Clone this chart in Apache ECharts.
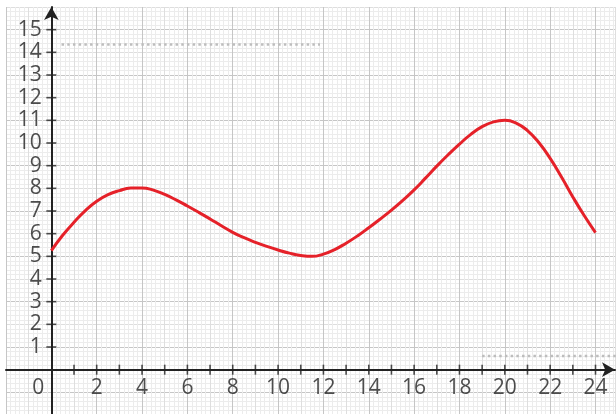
<!DOCTYPE html>
<html>
<head>
<meta charset="utf-8">
<script src="https://cdn.jsdelivr.net/npm/echarts@6/dist/echarts.min.js"></script>
<style>html,body{margin:0;padding:0;background:#fff}#c{width:616px;height:414px}</style>
</head>
<body>
<div id="c"></div>
<script>
// ---- data ----
const curveX = [0, 0.5, 1, 1.5, 2, 2.5, 3, 3.5, 4, 4.5, 5, 5.5, 6, 6.5, 7, 7.5, 8, 8.5, 9, 9.5, 10, 10.5, 11, 11.5, 12, 12.5,
                13, 13.5, 14, 14.5, 15, 15.5, 16, 16.5, 17, 17.5, 18, 18.5, 19, 19.5, 20, 20.5, 21, 21.5, 22, 22.5, 23, 23.5, 24];
const curveY = [5.25, 5.93, 6.5, 7.02, 7.43, 7.72, 7.9, 8.01, 8.02, 7.92, 7.73, 7.49, 7.22, 6.94, 6.65, 6.35, 6.06, 5.82, 5.62, 5.44, 5.28, 5.14, 5.04, 5.0, 5.1, 5.3,
                5.58, 5.9, 6.26, 6.64, 7.04, 7.47, 7.93, 8.45, 8.98, 9.48, 9.95, 10.38, 10.72, 10.93, 11.0, 10.88, 10.55, 10.02, 9.32, 8.5, 7.62, 6.8, 6.05];
const topDotX = [0.45, 11.85];
const topDotY = [14.35, 14.35];
const botDotX = [19.0, 25.0];
const botDotY = [0.6, 0.6];
const xTickValues = [1,2,3,4,5,6,7,8,9,10,11,12,13,14,15,16,17,18,19,20,21,22,23,24];
const yTickValues = [1,2,3,4,5,6,7,8,9,10,11,12,13,14,15];
const xLabelValues = [2,4,6,8,10,12,14,16,18,20,22,24];
const yLabelValues = [1,2,3,4,5,6,7,8,9,10,11,12,13,14,15];
const originLabel = '0';

const zip = (xs, ys) => xs.map((x, i) => [x, ys[i]]);
const FONT = 'Open Sans';
const AX = '#222';
const labelStyle = {color: AX, fontFamily: FONT, fontSize: 21};

const chart = echarts.init(document.getElementById('c'), null, {renderer: 'canvas'});
chart.setOption({
  animation: false,
  backgroundColor: '#fff',
  grid: {left: 6, top: 7, width: 609, height: 408, outerBoundsMode: 'none'},
  xAxis: {
    type: 'value', min: -2, max: 24.86, interval: 1,
    axisLine: {show: true, onZero: true, symbol: ['none', 'arrow'], symbolSize: [11, 13],
      lineStyle: {color: AX, width: 2}},
    axisTick: {show: false},
    minorTick: {show: false, splitNumber: 5},
    axisLabel: {show: false},
    splitLine: {show: true, lineStyle: {color: ['#c6c6c6', '#dedede'], width: 1}},
    minorSplitLine: {show: true, lineStyle: {color: '#ececec', width: 1}}
  },
  yAxis: {
    type: 'value', min: -2, max: 16, interval: 1,
    axisLine: {show: true, onZero: true, symbol: ['none', 'arrow'], symbolSize: [11, 13],
      lineStyle: {color: AX, width: 2}},
    axisTick: {show: false},
    minorTick: {show: false, splitNumber: 5},
    axisLabel: {show: false},
    splitLine: {show: true, lineStyle: {color: ['#dedede', '#c6c6c6'], width: 1}},
    minorSplitLine: {show: true, lineStyle: {color: '#ececec', width: 1}}
  },
  series: [
    {
      type: 'line', data: zip(topDotX, topDotY), symbol: 'none', silent: true,
      lineStyle: {color: '#bdbdbd', width: 2.5, type: [2.5, 3.2]}
    },
    {
      type: 'line', data: zip(botDotX, botDotY), symbol: 'none', silent: true,
      lineStyle: {color: '#bdbdbd', width: 2.5, type: [2.5, 3.2]}
    },
    {
      type: 'scatter', data: xTickValues.map(v => [v, 0]), symbol: 'rect', symbolSize: [1.6, 10],
      itemStyle: {color: AX}, silent: true, z: 5
    },
    {
      type: 'scatter', data: yTickValues.map(v => [0, v]), symbol: 'rect', symbolSize: [10, 1.6],
      itemStyle: {color: AX}, silent: true, z: 5
    },
    {
      // x-axis tick labels
      type: 'scatter', data: xLabelValues.map(v => [v, 0]), symbolSize: 1, silent: true, z: 7,
      itemStyle: {color: 'rgba(0,0,0,0)'},
      label: {show: true, position: 'bottom', distance: 7, formatter: p => String(p.value[0]), ...labelStyle}
    },
    {
      // origin label
      type: 'scatter', data: [[0, 0]], symbolSize: 1, silent: true, z: 7,
      itemStyle: {color: 'rgba(0,0,0,0)'},
      label: {show: true, position: 'bottom', distance: 7, offset: [-13, 0], formatter: originLabel, ...labelStyle}
    },
    {
      // y-axis tick labels
      type: 'scatter', data: yLabelValues.map(v => [0, v]), symbolSize: 1, silent: true, z: 7,
      itemStyle: {color: 'rgba(0,0,0,0)'},
      label: {show: true, position: 'left', distance: 9, formatter: p => String(p.value[1]), ...labelStyle}
    },
    {
      type: 'line', data: zip(curveX, curveY), smooth: 0.5, symbol: 'none', z: 6,
      lineStyle: {color: '#e52129', width: 3}
    }
  ]
});
</script>
</body>
</html>
